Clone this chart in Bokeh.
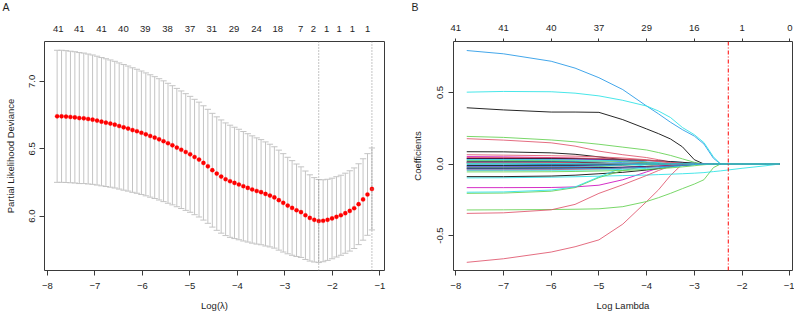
import numpy as np
from bokeh.plotting import figure
from bokeh.models import (Range1d, FixedTicker, LinearAxis, CustomJSTickFormatter,
                          Span, NumeralTickFormatter)
from bokeh.layouts import row
from bokeh.embed import file_html
from bokeh.resources import INLINE

# ---------------- Panel A: cross-validation curve ----------------
LOG_LAMBDA = [
    -7.794, -7.701, -7.607, -7.514, -7.421, -7.328, -7.234, -7.141, -7.048, -6.954,
    -6.861, -6.768, -6.674, -6.581, -6.488, -6.394, -6.301, -6.208, -6.115, -6.021,
    -5.928, -5.835, -5.741, -5.648, -5.555, -5.461, -5.368, -5.275, -5.182, -5.088,
    -4.995, -4.902, -4.808, -4.715, -4.622, -4.528, -4.435, -4.342, -4.249, -4.155,
    -4.062, -3.969, -3.875, -3.782, -3.689, -3.595, -3.502, -3.409, -3.316, -3.222,
    -3.129, -3.036, -2.942, -2.849, -2.756, -2.662, -2.569, -2.476, -2.383, -2.289,
    -2.196, -2.103, -2.009, -1.916, -1.823, -1.730, -1.636, -1.543, -1.450, -1.356,
    -1.263, -1.170,
]
CV_MEAN = [
    6.741, 6.741, 6.739, 6.736, 6.733, 6.728, 6.726, 6.721, 6.716, 6.709,
    6.701, 6.694, 6.687, 6.679, 6.669, 6.659, 6.650, 6.639, 6.630, 6.619,
    6.607, 6.595, 6.583, 6.570, 6.556, 6.541, 6.526, 6.509, 6.493, 6.476,
    6.459, 6.439, 6.420, 6.395, 6.370, 6.341, 6.316, 6.294, 6.274, 6.259,
    6.247, 6.235, 6.222, 6.210, 6.198, 6.187, 6.178, 6.165, 6.153, 6.139,
    6.119, 6.099, 6.079, 6.061, 6.044, 6.030, 6.007, 5.987, 5.973, 5.964,
    5.966, 5.973, 5.983, 5.995, 6.007, 6.022, 6.039, 6.059, 6.089, 6.124,
    6.161, 6.202,
]
CV_SD = [
    0.490, 0.490, 0.489, 0.488, 0.487, 0.486, 0.484, 0.482, 0.480, 0.478,
    0.476, 0.474, 0.472, 0.470, 0.468, 0.466, 0.464, 0.462, 0.460, 0.458,
    0.456, 0.454, 0.452, 0.450, 0.448, 0.445, 0.442, 0.439, 0.436, 0.433,
    0.430, 0.428, 0.426, 0.424, 0.423, 0.422, 0.421, 0.420, 0.418, 0.416,
    0.413, 0.410, 0.406, 0.402, 0.398, 0.394, 0.390, 0.386, 0.381, 0.376,
    0.371, 0.365, 0.358, 0.351, 0.343, 0.336, 0.328, 0.320, 0.313, 0.308,
    0.304, 0.301, 0.299, 0.298, 0.297, 0.297, 0.298, 0.299, 0.300, 0.302,
    0.303, 0.304,
]
LAMBDA_MIN_LOG = -2.289
LAMBDA_1SE_LOG = -1.170

TOP_A_TICKS = [-7.77, -7.33, -6.86, -6.40, -5.94, -5.47, -5.00, -4.54, -4.07,
               -3.60, -3.15, -2.67, -2.40, -2.12, -1.86, -1.58, -1.26]
TOP_A_LABELS = ["41", "41", "41", "40", "39", "38", "37", "31", "29",
                "24", "18", "7", "2", "1", "1", "1", "1"]

# ---------------- Panel B: coefficient paths ----------------
PATH_X = [-7.77, -7.0, -6.0, -5.5, -5.0, -4.5, -4.0, -3.75, -3.5, -3.25,
          -3.0, -2.8, -2.6, -2.45, -2.3, -2.0, -1.5, -1.21]

V01 = [0.393, 0.378, 0.363, 0.363, 0.361, 0.310, 0.245, 0.212, 0.175, 0.120, 0.030, 0, 0, 0, 0, 0, 0, 0]
V02 = [-0.687, -0.662, -0.615, -0.578, -0.530, -0.420, -0.262, -0.180, -0.080, 0, 0, 0, 0, 0, 0, 0, 0, 0]
V03 = [0.193, 0.186, 0.168, 0.155, 0.138, 0.118, 0.098, 0.080, 0.060, 0.036, 0.012, 0, 0, 0, 0, 0, 0, 0]
V04 = [0.793, 0.770, 0.718, 0.670, 0.603, 0.520, 0.405, 0.350, 0.292, 0.240, 0.195, 0.140, 0.040, 0, 0, 0, 0, 0]
V05 = [0.502, 0.507, 0.505, 0.495, 0.476, 0.445, 0.405, 0.370, 0.325, 0.255, 0.205, 0.150, 0.050, 0, 0, 0, 0, 0]
V06 = [-0.165, -0.165, -0.164, -0.160, -0.148, -0.110, -0.055, -0.028, -0.004, 0, 0, 0, 0, 0, 0, 0, 0, 0]
V07 = [0.086, 0.085, 0.078, 0.068, 0.050, 0.030, 0.012, 0.005, 0, 0, 0, 0, 0, 0, 0, 0, 0, 0]
V08 = [0.177, 0.167, 0.148, 0.125, 0.090, 0.065, 0.045, 0.030, 0.015, 0, 0, 0, 0, 0, 0, 0, 0, 0]
V09 = [-0.321, -0.320, -0.318, -0.316, -0.313, -0.298, -0.262, -0.235, -0.205, -0.172, -0.140, -0.110, -0.025, 0, 0, 0, 0, 0]
V10 = [0.035, 0.035, 0.034, 0.033, 0.031, 0.028, 0.024, 0.020, 0.016, 0.011, 0.005, 0, 0, 0, 0, 0, 0, 0]
V11 = [-0.097, -0.096, -0.092, -0.089, -0.085, -0.081, -0.077, -0.074, -0.071, -0.068, -0.064, -0.060, -0.053, -0.048, -0.042, -0.030, -0.012, 0]
V12 = [0.038, 0.038, 0.036, 0.034, 0.030, 0.023, 0.012, 0.005, 0, 0, 0, 0, 0, 0, 0, 0, 0, 0]
V13 = [-0.088, -0.088, -0.084, -0.078, -0.068, -0.058, -0.042, -0.032, -0.020, -0.008, -0.002, 0, 0, 0, 0, 0, 0, 0]
V14 = [-0.345, -0.341, -0.320, -0.282, -0.205, -0.145, -0.080, -0.045, -0.015, 0, 0, 0, 0, 0, 0, 0, 0, 0]
V15 = [-0.205, -0.203, -0.190, -0.165, -0.095, -0.045, -0.015, -0.005, 0, 0, 0, 0, 0, 0, 0, 0, 0, 0]
V16 = [0.020, 0.020, 0.019, 0.018, 0.015, 0.010, 0.004, 0, 0, 0, 0, 0, 0, 0, 0, 0, 0, 0]
V17 = [-0.197, -0.195, -0.182, -0.160, -0.090, -0.025, -0.005, 0, 0, 0, 0, 0, 0, 0, 0, 0, 0, 0]
V18 = [0.052, 0.050, 0.045, 0.040, 0.033, 0.020, 0.008, 0, 0, 0, 0, 0, 0, 0, 0, 0, 0, 0]
V19 = [0.040, 0.040, 0.039, 0.038, 0.036, 0.032, 0.026, 0.022, 0.017, 0.012, 0.005, 0, 0, 0, 0, 0, 0, 0]
V20 = [0.065, 0.062, 0.058, 0.055, 0.050, 0.042, 0.030, 0.022, 0.012, 0.006, 0.002, 0, 0, 0, 0, 0, 0, 0]
V21 = [0.025, 0.025, 0.024, 0.023, 0.021, 0.017, 0.010, 0.005, 0, 0, 0, 0, 0, 0, 0, 0, 0, 0]
V22 = [0.010, 0.010, 0.009, 0.008, 0.005, 0, 0, 0, 0, 0, 0, 0, 0, 0, 0, 0, 0, 0]
V23 = [0.030, 0.030, 0.029, 0.028, 0.026, 0.022, 0.015, 0.010, 0.005, 0, 0, 0, 0, 0, 0, 0, 0, 0]
V24 = [0.008, 0.006, 0, 0, 0, 0, 0, 0, 0, 0, 0, 0, 0, 0, 0, 0, 0, 0]
V25 = [0.015, 0.015, 0.014, 0.012, 0.007, 0, 0, 0, 0, 0, 0, 0, 0, 0, 0, 0, 0, 0]
V26 = [0.045, 0.045, 0.044, 0.042, 0.039, 0.034, 0.025, 0.017, 0.008, 0, 0, 0, 0, 0, 0, 0, 0, 0]
V27 = [0.003, 0.003, 0.002, 0.001, 0, 0, 0, 0, 0, 0, 0, 0, 0, 0, 0, 0, 0, 0]
V28 = [-0.005, -0.005, -0.003, 0, 0, 0, 0, 0, 0, 0, 0, 0, 0, 0, 0, 0, 0, 0]
V29 = [-0.015, -0.015, -0.013, -0.010, -0.005, 0, 0, 0, 0, 0, 0, 0, 0, 0, 0, 0, 0, 0]
V30 = [-0.018, -0.018, -0.016, -0.013, -0.007, 0, 0, 0, 0, 0, 0, 0, 0, 0, 0, 0, 0, 0]
V31 = [-0.010, -0.010, -0.009, -0.008, -0.006, -0.003, 0, 0, 0, 0, 0, 0, 0, 0, 0, 0, 0, 0]
V32 = [0.012, 0.012, 0.011, 0.009, 0.005, 0, 0, 0, 0, 0, 0, 0, 0, 0, 0, 0, 0, 0]
V33 = [-0.025, -0.025, -0.024, -0.022, -0.018, -0.010, 0, 0, 0, 0, 0, 0, 0, 0, 0, 0, 0, 0]
V34 = [-0.020, -0.020, -0.019, -0.017, -0.013, -0.007, 0, 0, 0, 0, 0, 0, 0, 0, 0, 0, 0, 0]
V35 = [-0.045, -0.045, -0.044, -0.043, -0.041, -0.037, -0.031, -0.026, -0.020, -0.013, -0.005, 0, 0, 0, 0, 0, 0, 0]
V36 = [-0.030, -0.030, -0.029, -0.028, -0.026, -0.022, -0.017, -0.013, -0.009, -0.005, -0.002, 0, 0, 0, 0, 0, 0, 0]
V37 = [-0.030, -0.030, -0.029, -0.028, -0.026, -0.023, -0.019, -0.016, -0.012, -0.008, -0.003, 0, 0, 0, 0, 0, 0, 0]
V38 = [-0.040, -0.040, -0.039, -0.037, -0.034, -0.029, -0.022, -0.017, -0.012, -0.007, -0.003, 0, 0, 0, 0, 0, 0, 0]
V39 = [-0.055, -0.055, -0.054, -0.052, -0.049, -0.045, -0.038, -0.033, -0.027, -0.020, -0.012, -0.005, 0, 0, 0, 0, 0, 0]
V40 = [-0.035, -0.035, -0.034, -0.033, -0.031, -0.028, -0.023, -0.019, -0.015, -0.010, -0.004, 0, 0, 0, 0, 0, 0, 0]
V41 = [0.005, 0.005, 0.004, 0.002, 0, 0, 0, 0, 0, 0, 0, 0, 0, 0, 0, 0, 0, 0]

COEF_PATHS = [V01, V02, V03, V04, V05, V06, V07, V08, V09, V10,
              V11, V12, V13, V14, V15, V16, V17, V18, V19, V20,
              V21, V22, V23, V24, V25, V26, V27, V28, V29, V30,
              V31, V32, V33, V34, V35, V36, V37, V38, V39, V40, V41]

TOP_B_TICKS = [-8, -7, -6, -5, -4, -3, -2, -1]
TOP_B_LABELS = ["41", "41", "40", "37", "29", "16", "1", "0"]

# R default palette, recycled over the variables
PALETTE = ["#000000", "#DF536B", "#61D04F", "#2297E6", "#28E2E5", "#CD0BBC"]

FONT = "Liberation Sans"
TXT = "#1e1e1e"
FRAME = "#3a3a3a"
FS = "9.5px"


def label_formatter(pos, labs):
    return CustomJSTickFormatter(
        args=dict(pos=pos, labs=labs),
        code="const i = pos.findIndex(t => Math.abs(t - tick) < 1e-6); return i < 0 ? '' : labs[i];",
    )


def style_axis(ax, tick_out=5, standoff=7, title_standoff=8):
    ax.axis_line_color = None
    ax.major_tick_line_color = FRAME
    ax.major_tick_out = tick_out
    ax.major_tick_in = 0
    ax.minor_tick_line_color = None
    ax.major_label_text_font = FONT
    ax.major_label_text_font_size = FS
    ax.major_label_text_color = TXT
    ax.major_label_standoff = standoff
    ax.axis_label_text_font = FONT
    ax.axis_label_text_font_size = FS
    ax.axis_label_text_font_style = "normal"
    ax.axis_label_text_color = TXT
    ax.axis_label_standoff = title_standoff


def top_axis(ticks, labels, tick_out, standoff, spacer_standoff):
    ax = LinearAxis(ticker=FixedTicker(ticks=ticks),
                    formatter=label_formatter(ticks, labels))
    style_axis(ax, tick_out, standoff, spacer_standoff)
    # a blank, tiny axis title adds a little headroom above the count labels
    ax.axis_label = " "
    ax.axis_label_text_font_size = "2px"
    return ax


def base_figure(xr, yr, left, right, xlabel, ylabel, panel):
    p = figure(width=397, height=317, x_range=xr, y_range=yr,
               output_backend="svg", toolbar_location=None,
               min_border_left=left, min_border_right=right,
               min_border_top=41, min_border_bottom=47,
               x_axis_label=xlabel, y_axis_label=ylabel, title=panel)
    p.grid.visible = False
    p.outline_line_color = FRAME
    p.outline_line_width = 1
    p.background_fill_color = "white"
    p.border_fill_color = "white"
    p.title.align = "left"
    p.title.offset = -42
    p.title.standoff = 0
    p.title.vertical_align = "top"
    p.title.text_font = FONT
    p.title.text_font_size = "10.5px"
    p.title.text_font_style = "normal"
    p.title.text_color = TXT
    return p


# ---- Panel A ----
pA = base_figure(Range1d(-8.06, -0.905), Range1d(5.597, 7.296), 44, 13,
                 "Log(λ)", "Partial Likelihood Deviance", "A")
style_axis(pA.xaxis[0], 5, 7, 8)
pA.xaxis[0].ticker = FixedTicker(ticks=[-8, -7, -6, -5, -4, -3, -2, -1])
style_axis(pA.yaxis[0], 5, 4, 11)
pA.yaxis[0].ticker = FixedTicker(ticks=[6.0, 6.5, 7.0])
pA.yaxis[0].formatter = NumeralTickFormatter(format="0.0")
pA.yaxis[0].major_label_orientation = "vertical"

topA = top_axis(TOP_A_TICKS, TOP_A_LABELS, 0, 10, 3)
topA.major_tick_line_color = None
pA.add_layout(topA, "above")

x = np.array(LOG_LAMBDA)
m = np.array(CV_MEAN)
sd = np.array(CV_SD)
up, lo = m + sd, m - sd
CAP = 0.066
BAR = "#c4c4c4"
pA.segment(x0=x, y0=lo, x1=x, y1=up, line_color=BAR, line_width=1)
pA.segment(x0=x - CAP, y0=up, x1=x + CAP, y1=up, line_color=BAR, line_width=1)
pA.segment(x0=x - CAP, y0=lo, x1=x + CAP, y1=lo, line_color=BAR, line_width=1)
pA.scatter(x, m, size=4.2, fill_color="#FF0000", line_color="#FF0000", line_width=0.3)
for loc in (LAMBDA_MIN_LOG, LAMBDA_1SE_LOG):
    pA.add_layout(Span(location=loc, dimension="height", line_color="#8a8a8a",
                       line_width=1, line_dash="1 2"))

# ---- Panel B ----
pB = base_figure(Range1d(-8.048, -0.943), Range1d(-0.744, 0.856), 56, 2,
                 "Log Lambda", "Coefficients", "B")
style_axis(pB.xaxis[0], 5, 7, 8)
pB.xaxis[0].ticker = FixedTicker(ticks=[-8, -7, -6, -5, -4, -3, -2, -1])
style_axis(pB.yaxis[0], 5, 5, 12)
pB.yaxis[0].ticker = FixedTicker(ticks=[-0.5, 0.0, 0.5])
pB.yaxis[0].formatter = NumeralTickFormatter(format="0.0")
pB.yaxis[0].major_label_orientation = "vertical"

topB = top_axis(TOP_B_TICKS, TOP_B_LABELS, 3, 8, 2)
pB.add_layout(topB, "above")

for j, path in enumerate(COEF_PATHS):
    pB.line(PATH_X, path, line_color=PALETTE[j % len(PALETTE)], line_width=1,
            line_alpha=0.85)

pB.add_layout(Span(location=LAMBDA_MIN_LOG, dimension="height", line_color="#FF0000",
                   line_width=1, line_dash="4 2 1 2"))

layout = row(pA, pB)
open("out.html", "w").write(file_html(layout, INLINE))
